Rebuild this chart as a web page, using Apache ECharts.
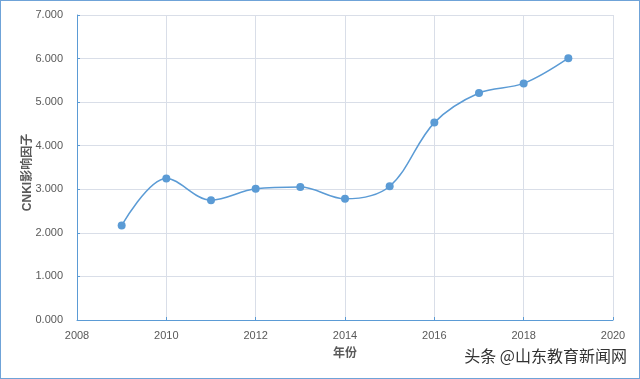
<!DOCTYPE html>
<html><head><meta charset="utf-8">
<script src="https://cdn.jsdelivr.net/npm/echarts@6/dist/echarts.min.js"></script>
<style>
html,body{margin:0;padding:0;background:#fff;}
#c{width:640px;height:379px;box-sizing:border-box;border:1px solid #6fa3d8;}
</style></head>
<body><div id="c"></div>
<script>
const years = [2009, 2010, 2011, 2012, 2013, 2014, 2015, 2016, 2017, 2018, 2019];
const impact = [2.17, 3.25, 2.75, 3.01, 3.05, 2.78, 3.07, 4.53, 5.21, 5.43, 6.01];
const xName = '年份';
const yName = 'CNKI影响因子';
const watermark = '头条 @山东教育新闻网';

const chart = echarts.init(document.getElementById('c'));
const font = '"Liberation Sans", "Noto Sans CJK SC", sans-serif';
chart.setOption({
  animation: false,
  grid: {left: 76, right: 26, top: 14, bottom: 58},
  xAxis: {
    type: 'value', min: 2008, max: 2020, interval: 2,
    name: xName, nameLocation: 'middle', nameGap: 28, nameMoveOverlap: false,
    nameTextStyle: {color: '#595959', fontSize: 12, fontWeight: 'bold', fontFamily: font},
    axisLine: {show: true, lineStyle: {color: '#5b9bd5', width: 1}},
    axisTick: {show: true, inside: true, length: 3, lineStyle: {color: '#5b9bd5'}},
    axisLabel: {color: '#595959', fontSize: 11, fontFamily: font, margin: 10,
      formatter: v => String(v)},
    splitLine: {show: true, lineStyle: {color: '#d9dee8', width: 1}}
  },
  yAxis: {
    type: 'value', min: 0, max: 7, interval: 1,
    name: yName, nameLocation: 'middle', nameGap: 43, nameRotate: 90, nameMoveOverlap: false,
    nameTextStyle: {color: '#595959', fontSize: 12, fontWeight: 'bold', fontFamily: font,
      padding: [0, 10, 0, 0]},
    axisLine: {show: true, lineStyle: {color: '#5b9bd5', width: 1}},
    axisTick: {show: true, inside: true, length: 3, lineStyle: {color: '#5b9bd5'}},
    axisLabel: {color: '#595959', fontSize: 11, fontFamily: font, margin: 14,
      formatter: v => v.toFixed(3)},
    splitLine: {show: true, lineStyle: {color: '#d9dee8', width: 1}}
  },
  series: [{
    type: 'line',
    data: years.map((y, i) => [y, impact[i]]),
    smooth: 0.35,
    symbol: 'circle', symbolSize: 8,
    lineStyle: {color: '#5b9bd5', width: 1.5},
    itemStyle: {color: '#5b9bd5'}
  }],
  graphic: [{
    type: 'text', right: 12, bottom: 14,
    style: {text: watermark, fill: '#333', font: '16px "Noto Sans CJK SC", sans-serif'}
  }]
});
</script></body></html>
